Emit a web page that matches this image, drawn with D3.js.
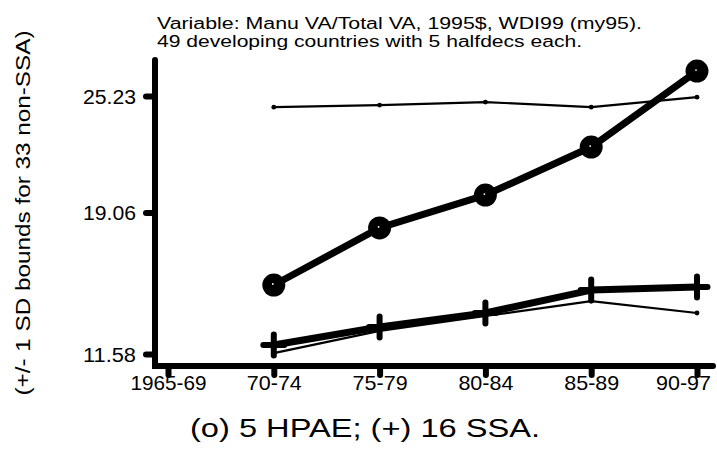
<!DOCTYPE html>
<html>
<head>
<meta charset="utf-8">
<script src="https://cdn.jsdelivr.net/npm/d3@7"></script>
<style>
  html, body { margin: 0; padding: 0; background: #fff; }
  svg { display: block; }
  text { font-family: "Liberation Sans", Arial, sans-serif; fill: #000; }
</style>
</head>
<body>
<script>
// ---- data ----
const categories = ["1965-69", "70-74", "75-79", "80-84", "85-89", "90-97"];
const dataCategories = ["70-74", "75-79", "80-84", "85-89", "90-97"];
const hpae = [15.23, 18.25, 19.99, 22.53, 26.55];        // (o) 5 HPAE
const ssa = [12.06, 13.01, 13.75, 14.96, 15.12];         // (+) 16 SSA
const upperBound = [24.64, 24.75, 24.91, 24.64, 25.17];  // +1 SD non-SSA
const lowerBound = [11.63, 12.80, 13.59, 14.38, 13.75];  // -1 SD non-SSA
const yTicks = [11.58, 19.06, 25.23];
const titleLines = [
  "Variable: Manu VA/Total VA, 1995$, WDI99 (my95).",
  "49 developing countries with 5 halfdecs each."
];
const yTitle = "(+/- 1 SD bounds for 33 non-SSA)";
const xTitle = "(o) 5 HPAE; (+) 16 SSA.";

// ---- layout ----
const W = 717, H = 449;
const svg = d3.select("body").append("svg").attr("width", W).attr("height", H);

const x = d3.scalePoint().domain(categories).range([168, 697]);
const y = d3.scaleLinear().domain([11.58, 25.23]).range([354, 96]);

const axisX = 155, axisTop = 60, axisY = 366, axisRight = 713;

// title
svg.selectAll("text.title").data(titleLines).join("text")
  .attr("class", "title")
  .attr("x", 157)
  .attr("y", (d, i) => 29 + i * 18)
  .attr("font-size", 16)
  .attr("textLength", (d, i) => i === 0 ? 485 : 425)
  .attr("lengthAdjust", "spacingAndGlyphs")
  .text(d => d);

// y-axis title
svg.append("text")
  .attr("transform", "translate(30,213) rotate(-90)")
  .attr("text-anchor", "middle")
  .attr("font-size", 20)
  .attr("textLength", 365)
  .attr("lengthAdjust", "spacingAndGlyphs")
  .text(yTitle);

// x-axis title
svg.append("text")
  .attr("x", 365).attr("y", 437)
  .attr("text-anchor", "middle")
  .attr("font-size", 25)
  .attr("textLength", 350)
  .attr("lengthAdjust", "spacingAndGlyphs")
  .text(xTitle);

// axes lines
svg.append("path")
  .attr("d", `M${axisX},${axisTop} L${axisX},${axisY} L${axisRight},${axisY}`)
  .attr("fill", "none").attr("stroke", "#000").attr("stroke-width", 6)
  .attr("stroke-linecap", "round").attr("stroke-linejoin", "miter");

// y ticks
const yAxis = d3.axisLeft(y).tickValues(yTicks).tickSize(0).tickFormat(d3.format(".2f"));
const gy = svg.append("g").attr("transform", `translate(${axisX},0)`).call(yAxis);
gy.select(".domain").remove();
gy.selectAll(".tick line").remove();
gy.selectAll(".tick").append("line")
  .attr("x1", -9).attr("x2", 0)
  .attr("stroke", "#000").attr("stroke-width", 6).attr("stroke-linecap", "round");
gy.selectAll(".tick text")
  .attr("x", -19).attr("dy", "0.36em")
  .attr("font-size", 20).attr("font-family", null)
  .attr("textLength", 53).attr("lengthAdjust", "spacingAndGlyphs");

// x ticks
const xAxis = d3.axisBottom(x).tickSize(0);
const gx = svg.append("g").attr("transform", `translate(0,${axisY})`).call(xAxis);
gx.select(".domain").remove();
gx.selectAll(".tick line").remove();
gx.selectAll(".tick").append("line")
  .attr("y1", 0).attr("y2", 9)
  .attr("stroke", "#000").attr("stroke-width", 6).attr("stroke-linecap", "round");
gx.selectAll(".tick text")
  .attr("y", 24).attr("dy", 0)
  .attr("x", (d, i) => i === categories.length - 1 ? -14 : 0)
  .attr("font-size", 21).attr("font-family", null)
  .attr("textLength", d => d.length > 5 ? 76 : 55)
  .attr("lengthAdjust", "spacingAndGlyphs");
svg.selectAll(".tick text").attr("fill", "#000");

// helpers
const line = d3.line().x(d => x(d[0])).y(d => y(d[1]));
const pts = vals => dataCategories.map((c, i) => [c, vals[i]]);

// thin bound lines
[upperBound, lowerBound].forEach(vals => {
  svg.append("path").datum(pts(vals)).attr("d", line)
    .attr("fill", "none").attr("stroke", "#000").attr("stroke-width", 2.2)
    .attr("stroke-linejoin", "round");
  svg.append("g").selectAll("circle").data(pts(vals)).join("circle")
    .attr("cx", d => x(d[0])).attr("cy", d => y(d[1])).attr("r", 2.4).attr("fill", "#000");
});

// thick series lines
[ssa, hpae].forEach(vals => {
  svg.append("path").datum(pts(vals)).attr("d", line)
    .attr("fill", "none").attr("stroke", "#000").attr("stroke-width", 7)
    .attr("stroke-linejoin", "round").attr("stroke-linecap", "round");
});

// HPAE circle markers
const cg = svg.append("g").selectAll("g").data(pts(hpae)).join("g")
  .attr("transform", d => `translate(${x(d[0])},${y(d[1])})`);
cg.append("circle").attr("r", 11.5).attr("fill", "#000");
cg.append("circle").attr("cx", -1).attr("cy", -1).attr("r", 0.9).attr("fill", "#fff");

// SSA plus markers
const pg = svg.append("g").selectAll("g").data(pts(ssa)).join("g")
  .attr("transform", d => `translate(${x(d[0])},${y(d[1])})`);
pg.append("line").attr("x1", 0).attr("x2", 0).attr("y1", -10.5).attr("y2", 10.5)
  .attr("stroke", "#000").attr("stroke-width", 6).attr("stroke-linecap", "round");
pg.append("line").attr("y1", 0).attr("y2", 0).attr("x1", -10.5).attr("x2", 10.5)
  .attr("stroke", "#000").attr("stroke-width", 6).attr("stroke-linecap", "round");
</script>
</body>
</html>
